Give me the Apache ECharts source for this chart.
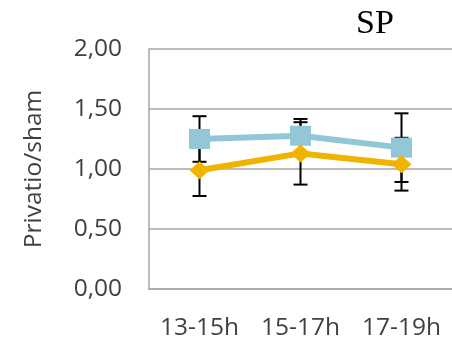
<!DOCTYPE html>
<html>
<head>
<meta charset="utf-8">
<script src="https://cdn.jsdelivr.net/npm/echarts@6/dist/echarts.min.js"></script>
<style>html,body{margin:0;padding:0;background:#fff}#c{width:452px;height:343px}</style>
</head>
<body>
<div id="c"></div>
<script>
var categories = ['13-15h', '15-17h', '17-19h'];
var yTicks = [0, 0.5, 1, 1.5, 2];
var blueValues = [1.25, 1.277, 1.178];
var blueErrors = [0.19, 0.14, 0.286];
var orangeValues = [0.99, 1.13, 1.04];
var orangeErrors = [0.215, 0.26, 0.22];
var titleText = 'SP';
var yName = 'Privatio/sham';

function errData(vals, errs) {
  return vals.map(function (v, i) { return [i, v - errs[i], v + errs[i]]; });
}
function renderErr(params, api) {
  var lo = api.coord([api.value(0), api.value(1)]);
  var hi = api.coord([api.value(0), api.value(2)]);
  var w = 7;
  var st = { stroke: '#000', lineWidth: 2 };
  return {
    type: 'group',
    children: [
      { type: 'line', shape: { x1: lo[0], y1: lo[1], x2: hi[0], y2: hi[1] }, style: st },
      { type: 'line', shape: { x1: lo[0] - w, y1: lo[1], x2: lo[0] + w, y2: lo[1] }, style: st },
      { type: 'line', shape: { x1: hi[0] - w, y1: hi[1], x2: hi[0] + w, y2: hi[1] }, style: st }
    ]
  };
}

var chart = echarts.init(document.getElementById('c'));
chart.setOption({
  animation: false,
  backgroundColor: '#fff',
  title: {
    text: titleText, left: 370, top: 2, textAlign: 'center',
    textStyle: { fontFamily: 'Liberation Serif', fontSize: 34, fontWeight: 'normal', color: '#000' }
  },
  grid: { left: 149, top: 49, bottom: 54, right: -6 },
  xAxis: {
    type: 'category', data: categories, boundaryGap: true,
    axisLine: { show: true, lineStyle: { color: '#a6a6a6', width: 1.5 } },
    axisTick: { show: false },
    axisLabel: { interval: 0, hideOverlap: false, margin: 27, fontFamily: 'Open Sans', fontSize: 24.5, color: '#404040' }
  },
  yAxis: {
    type: 'value', min: 0, max: 2, interval: 0.5,
    name: yName, nameLocation: 'middle', nameGap: 102, nameRotate: 90,
    nameTextStyle: { fontFamily: 'Open Sans', fontSize: 24.5, color: '#404040' },
    axisLine: { show: true, lineStyle: { color: '#a6a6a6', width: 1.5 } },
    axisTick: { show: false },
    splitLine: { show: true, lineStyle: { color: '#a6a6a6', width: 1.5 } },
    axisLabel: {
      margin: 27, fontFamily: 'Open Sans', fontSize: 24.5, color: '#404040',
      formatter: function (v) { return yTicks.indexOf(v) >= 0 ? v.toFixed(2).replace('.', ',') : ''; }
    }
  },
  series: [
    { type: 'custom', renderItem: renderErr, data: errData(blueValues, blueErrors), z: 1, encode: { x: 0, y: [1, 2] } },
    { type: 'custom', renderItem: renderErr, data: errData(orangeValues, orangeErrors), z: 1, encode: { x: 0, y: [1, 2] } },
    {
      type: 'line', data: blueValues, z: 3, symbol: 'rect', symbolSize: [21, 20],
      lineStyle: { color: '#93c6d6', width: 6 }, itemStyle: { color: '#93c6d6' }
    },
    {
      type: 'line', data: orangeValues, z: 4, symbol: 'diamond', symbolSize: [20, 18],
      lineStyle: { color: '#efb300', width: 6 }, itemStyle: { color: '#efb300' }
    }
  ]
});
</script>
</body>
</html>
